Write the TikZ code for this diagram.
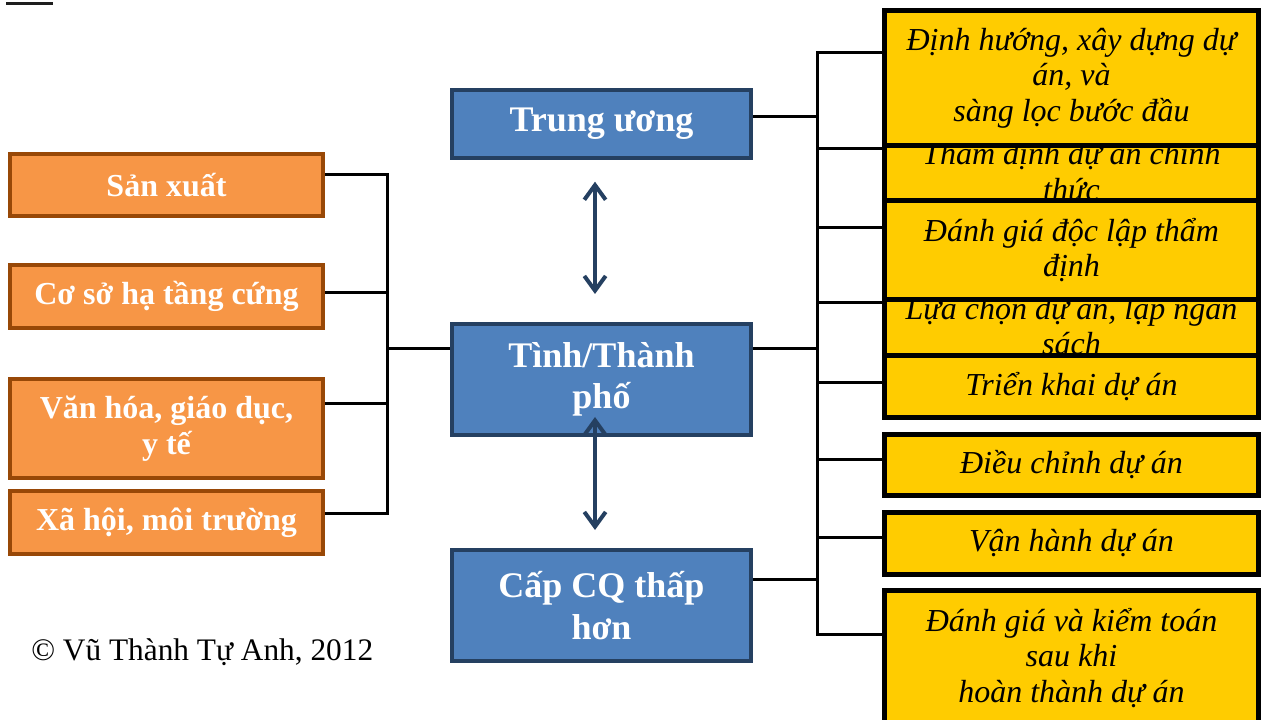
\documentclass[tikz,border=0pt]{standalone}
\usepackage{fontspec}
\setmainfont{Liberation Serif}
\usetikzlibrary{arrows.meta,calc}
\pgfdeclarelayer{bg}
\pgfsetlayers{bg,main}
\definecolor{ofill}{HTML}{F79646}
\definecolor{oline}{HTML}{984807}
\definecolor{bfill}{HTML}{4F81BD}
\definecolor{bline}{HTML}{254061}
\definecolor{yfill}{HTML}{FFCC00}
\definecolor{barcol}{HTML}{1E1E1E}
\begin{document}
\begin{tikzpicture}[x=0.75pt,y=-0.75pt,
  obox/.style={draw=oline, fill=ofill, line width=3pt, text=white,
    font=\fontsize{24}{27}\selectfont\bfseries, align=center, inner sep=0pt,
    minimum width=234.75pt},
  bbox/.style={draw=bline, fill=bfill, line width=3pt, text=white,
    font=\fontsize{27}{31}\selectfont\bfseries, align=center, inner sep=0pt,
    minimum width=224.25pt},
  ybox/.style={draw=black, fill=yfill, line width=3.75pt, text=black,
    font=\fontsize{24}{26.5}\selectfont\itshape, align=center, inner sep=0pt,
    minimum width=280.5pt},
  conn/.style={draw=black, line width=2.25pt},
  dbl/.style={draw=bline, line width=3pt, >={Straight Barb[length=11pt,width=16pt]}, <->}
]
\clip (0,0) rectangle (1265,720);
\fill[barcol] (6,2) rectangle (53,5);

% left orange boxes
\node[obox, minimum height=46.5pt]  (o1) at (166.5,185)   {Sản xuất};
\node[obox, minimum height=47.25pt] (o2) at (166.5,296.5) {Cơ sở hạ tầng cứng};
\node[obox, minimum height=74.25pt] (o3) at (166.5,428.5) {Văn hóa, giáo dục,\\y tế};
\node[obox, minimum height=47.25pt] (o4) at (166.5,522.5) {Xã hội, môi trường};

% blue boxes
\node[bbox, minimum height=51pt]    (b1) at (601.5,124)   {Trung ương};
\node[bbox, minimum height=83.25pt] (b2) at (601.5,379.5) {Tình/Thành\\phố};
\node[bbox, minimum height=83.25pt] (b3) at (601.5,605.5) {Cấp CQ thấp\\hơn};

% yellow boxes (back ones first)
\node[ybox, minimum height=78pt]     (y2) at (1071.5,171)   {Thẩm định dự án chính\\thức};
\node[ybox, minimum height=78pt]     (y4) at (1071.5,326)   {Lựa chọn dự án, lập ngân\\sách};
\node[ybox, minimum height=101.25pt] (y1) at (1071.5,78)    {Định hướng, xây dựng dự\\án, và\\sàng lọc bước đầu};
\node[ybox, minimum height=74.25pt]  (y3) at (1071.5,250)   {Đánh giá độc lập thẩm\\định};
\node[ybox, minimum height=46.5pt]   (y5) at (1071.5,386.5) {Triển khai dự án};
\node[ybox, minimum height=45.75pt]  (y6) at (1071.5,465)   {Điều chỉnh dự án};
\node[ybox, minimum height=46.5pt]   (y7) at (1071.5,543.5) {Vận hành dự án};
\node[ybox, minimum height=101.25pt] (y8) at (1071.5,658)   {Đánh giá và kiểm toán\\sau khi\\hoàn thành dự án};

% copyright
\node[anchor=base west, inner sep=0pt, font=\fontsize{23.5}{26}\selectfont] (cr) at (31,660) {© Vũ Thành Tự Anh, 2012};

% connector coordinates
\coordinate (lt) at (387,0);
\coordinate (rt) at (817,0);
\foreach \n/\d in {o1/-10,o2/-3.5,o3/-24.5,o4/-9.5,b1/-7,b2/-30.5,b3/-26.5}
  \path ($(\n.east)+(0,\d)$) coordinate (\n c);
\path ($(b2.west)+(0,-30.5)$) coordinate (b2w);
\foreach \n/\d in {y1/-25,y2/-22,y3/-22,y4/-23,y5/-3.5,y6/-5,y7/-6.5,y8/-24}
  \path ($(\n.west)+(0,\d)$) coordinate (\n c);

\begin{pgfonlayer}{bg}
  \draw[conn] (o1c) -- (o1c -| lt) -- (o4c -| lt) -- (o4c);
  \draw[conn] (o2c) -- (o2c -| lt);
  \draw[conn] (o3c) -- (o3c -| lt);
  \draw[conn] (b2w) -- (b2w -| lt);
  \draw[conn] (y1c) -- (y1c -| rt) -- (y8c -| rt) -- (y8c);
  \foreach \n in {y2,y3,y4,y5,y6,y7}
    \draw[conn] (\n c) -- (\n c -| rt);
  \foreach \n in {b1,b2,b3}
    \draw[conn] (\n c) -- (\n c -| rt);
\end{pgfonlayer}

% double arrows
\draw[dbl] ($(b1.south)+(-6.5,21.7)$) -- ($(b2.north)+(-6.5,-28)$);
\draw[dbl] ($(b2.south)+(-6.5,-20)$) -- ($(b3.north)+(-6.5,-18)$);
\end{tikzpicture}
\end{document}
